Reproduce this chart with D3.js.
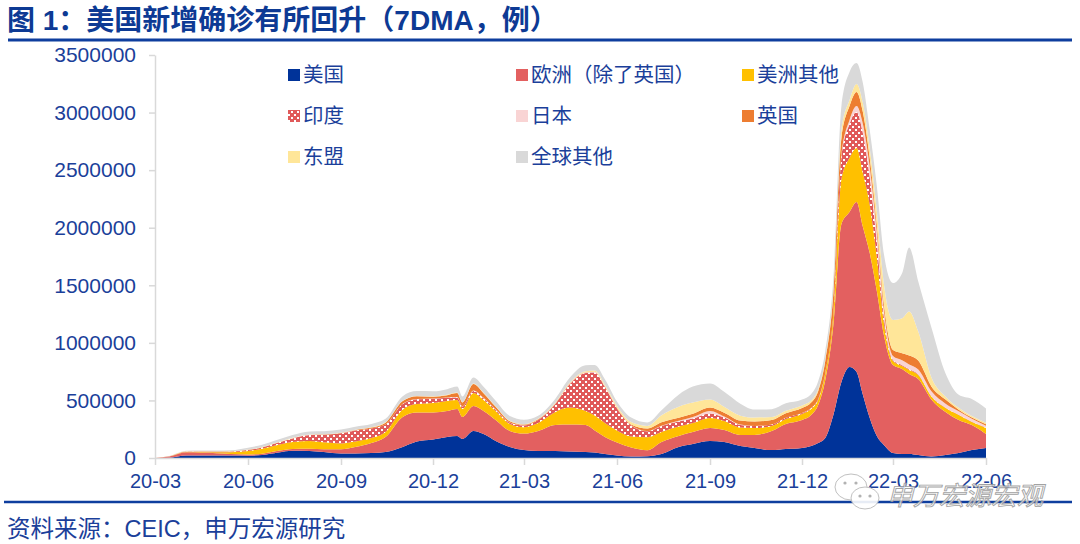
<!DOCTYPE html>
<html><head><meta charset="utf-8">
<script src="https://cdn.jsdelivr.net/npm/d3@7"></script>
<style>
body{margin:0;background:#fff}
svg{display:block}
text{font-family:"Liberation Sans",Arial,"Noto Sans CJK SC",sans-serif}
</style>
</head><body>
<svg id="c" width="1080" height="544"></svg>
<script>
// ---- data (7DMA new cases, in thousands of cases) ----
const dates = ["2020-03-01","2020-03-15","2020-04-01","2020-04-15","2020-05-01","2020-05-15","2020-06-01","2020-06-15","2020-07-01","2020-07-15","2020-08-01","2020-08-15","2020-09-01","2020-09-15","2020-10-01","2020-10-15","2020-11-01","2020-11-15","2020-12-01","2020-12-15","2020-12-25","2020-12-30","2021-01-10","2021-01-20","2021-02-01","2021-02-15","2021-03-01","2021-03-15","2021-04-01","2021-04-15","2021-05-01","2021-05-10","2021-05-20","2021-06-01","2021-06-15","2021-07-01","2021-07-15","2021-08-01","2021-08-15","2021-09-01","2021-09-15","2021-10-01","2021-10-15","2021-11-01","2021-11-15","2021-12-01","2021-12-10","2021-12-17","2021-12-24","2022-01-01","2022-01-09","2022-01-17","2022-01-24","2022-01-30","2022-02-06","2022-02-13","2022-02-20","2022-03-01","2022-03-10","2022-03-17","2022-03-26","2022-04-08","2022-04-22","2022-05-05","2022-05-18","2022-06-01"];
const usa = [0,3,22,22,22,22,20,26,48,63,61,52,39,39,43,52,96,143,161,182,191,165,234,208,148,96,69,61,61,56,52,48,35,22,13,16,35,96,122,148,139,104,87,69,78,87,104,130,174,373,660,790,747,556,347,191,113,43,35,35,26,13,26,43,69,87];
const europeExUK = [0,10,28,26,19,13,11,12,15,16,19,24,36,56,87,130,261,252,234,226,234,191,217,200,182,139,143,174,226,234,234,191,148,113,78,52,104,96,104,113,104,96,113,165,217,243,269,330,504,782,1372,1346,1476,1459,1433,1259,955,764,738,695,660,495,373,287,217,122];
const americasOther = [0,1,3,4,9,16,30,43,52,61,68,61,52,48,43,43,65,74,83,87,78,69,113,96,78,61,56,69,113,148,122,130,122,104,96,113,87,82,78,87,78,65,61,43,43,52,52,43,52,87,391,469,469,469,417,295,104,35,26,35,35,26,35,43,26,52];
const india = [0,0,1,1,2,3,8,11,19,30,52,65,87,96,83,65,48,42,37,28,23,20,18,15,12,11,15,26,69,200,330,373,313,191,96,52,52,43,39,39,30,22,16,13,11,9,8,8,7,13,191,295,313,347,243,130,52,9,7,5,4,2,3,3,3,3];
const japan = [0,0,0,0,0,0,0,0,0,1,1,1,1,1,1,1,1,2,2,3,3,3,5,5,3,1,1,1,2,3,5,6,5,3,2,2,3,7,13,22,9,3,1,0.4,0.4,0.4,0.4,0.4,0.4,1,17,35,52,78,87,87,61,35,43,43,43,43,35,30,26,17];
const uk = [0,1,3,4,4,3,2,1,1,1,1,1,2,3,7,16,24,23,16,20,35,35,56,39,22,11,6,5,3,3,2,2,3,3,7,22,30,26,29,30,33,35,39,39,39,43,48,69,104,174,148,122,122,104,78,61,52,52,61,78,78,43,35,13,10,13];
const asean = [0,0,1,1,1,1,2,2,3,3,3,3,3,3,3,3,3,3,3,4,4,3,4,4,4,4,4,5,6,7,9,10,11,16,20,22,61,96,96,69,52,43,35,26,22,22,17,17,17,26,69,52,69,78,87,122,174,261,304,382,252,78,26,17,13,13];
const restOfWorld = [0,3,6,7,9,10,17,20,22,24,26,26,28,26,29,30,39,42,43,48,52,48,52,52,48,42,39,26,35,43,52,48,48,39,39,30,43,104,139,139,130,104,69,69,65,52,56,69,69,104,208,243,182,174,156,217,261,321,391,556,434,434,200,113,148,122];
const UNIT = 1000;

const seriesKeys = ["usa","europeExUK","americasOther","india","japan","uk","asean","restOfWorld"];
const seriesNames = ["美国","欧洲（除了英国）","美洲其他","印度","日本","英国","东盟","全球其他"];
const seriesColors = ["#003399","#E36060","#FFC000","url(#indiaPat)","#F9D4D4","#ED7D31","#FFE699","#D9D9D9"];
const yTicks = [0,500000,1000000,1500000,2000000,2500000,3000000,3500000];
const xTickDates = ["2020-03-01","2020-06-01","2020-09-01","2020-12-01","2021-03-01","2021-06-01","2021-09-01","2021-12-01","2022-03-01","2022-06-01"];
const xTickLabels = ["20-03","20-06","20-09","20-12","21-03","21-06","21-09","21-12","22-03","22-06"];
const titleText = "图 1：美国新增确诊有所回升（7DMA，例）";
const sourceText = "资料来源：CEIC，申万宏源研究";
const watermarkText = "申万宏源宏观";

// ---- build table ----
const parse = d3.timeParse("%Y-%m-%d");
const raw = {usa, europeExUK, americasOther, india, japan, uk, asean, restOfWorld};
const table = dates.map((d,i)=>{
  const row = {date: parse(d)};
  seriesKeys.forEach(k=> row[k] = raw[k][i]*UNIT);
  return row;
});

const svg = d3.select("#c");
const blue = "#1B3F9A";

// pattern for India
const defs = svg.append("defs");
const pat = defs.append("pattern").attr("id","indiaPat").attr("patternUnits","userSpaceOnUse")
  .attr("width",6).attr("height",6);
pat.append("rect").attr("width",6).attr("height",6).attr("fill","#E05A5A");
pat.append("rect").attr("x",0).attr("y",0).attr("width",2).attr("height",2).attr("fill","#fff");
pat.append("rect").attr("x",3).attr("y",3).attr("width",2).attr("height",2).attr("fill","#fff");

// title
svg.append("text").attr("x",7).attr("y",30).attr("font-size",28).attr("font-weight","bold")
  .attr("fill","#0D3A94").text(titleText);
svg.append("line").attr("x1",8).attr("x2",1072).attr("y1",40).attr("y2",40)
  .attr("stroke","#0E3E9E").attr("stroke-width",3);

// scales
const x = d3.scaleTime().domain([parse("2020-03-01"), parse("2022-06-01")]).range([155, 986]);
const y = d3.scaleLinear().domain([0,3500000]).range([458,55]);

// stack
const stack = d3.stack().keys(seriesKeys);
const layers = stack(table);
const area = d3.area().x(d=>x(d.data.date)).y0(d=>y(d[0])).y1(d=>y(d[1])).curve(d3.curveMonotoneX);
svg.append("g").selectAll("path").data(layers).join("path")
  .attr("d",area).attr("fill",(d,i)=>seriesColors[i]);

// y axis
const yAxis = svg.append("g").attr("transform","translate(155,0)")
  .call(d3.axisLeft(y).tickValues(yTicks).tickFormat(d3.format("d")).tickSize(6).tickSizeOuter(0).tickPadding(13));
yAxis.select(".domain").attr("stroke","#D9D9D9").attr("stroke-width",1.5);
yAxis.selectAll(".tick line").attr("stroke","#D9D9D9").attr("stroke-width",1.5);
yAxis.selectAll(".tick text").attr("font-size",21).attr("fill",blue)
  .attr("font-family",'"Liberation Sans",Arial,sans-serif');

// x axis
const xAxis = svg.append("g").attr("transform","translate(0,458)")
  .call(d3.axisBottom(x).tickValues(xTickDates.map(parse)).tickFormat((d,i)=>xTickLabels[i]).tickSize(7).tickSizeOuter(0).tickPadding(9));
xAxis.select(".domain").attr("stroke","#D9D9D9").attr("stroke-width",1.5);
xAxis.selectAll(".tick line").attr("stroke","#D9D9D9").attr("stroke-width",1.5);
xAxis.selectAll(".tick text").attr("font-size",20).attr("fill",blue)
  .attr("font-family",'"Liberation Sans",Arial,sans-serif');

// legend
const legCols = [288,516,742], legRows = [75,116,157];
const leg = svg.append("g");
seriesNames.forEach((n,i)=>{
  const cx = legCols[i%3], cy = legRows[Math.floor(i/3)];
  leg.append("rect").attr("x",cx).attr("y",cy-6).attr("width",12).attr("height",12).attr("fill",seriesColors[i]);
  leg.append("text").attr("x",cx+15).attr("y",cy+7).attr("font-size",20.5).attr("fill",blue).text(n);
});

// bottom rule & source
svg.append("line").attr("x1",4).attr("x2",1072).attr("y1",502).attr("y2",502)
  .attr("stroke","#0E3E9E").attr("stroke-width",2.5);
svg.append("text").attr("x",7).attr("y",537).attr("font-size",23.5).attr("fill",blue).text(sourceText);

// watermark
const wm = svg.append("g").attr("opacity",0.9);
wm.append("ellipse").attr("cx",851).attr("cy",487).attr("rx",16).attr("ry",13).attr("fill","#fff").attr("stroke","#bbb").attr("stroke-width",1);
wm.append("ellipse").attr("cx",865).attr("cy",498).attr("rx",14).attr("ry",11).attr("fill","#fff").attr("stroke","#bbb").attr("stroke-width",1);
[[845,483],[856,483],[860,496],[870,496]].forEach(p=>wm.append("circle").attr("cx",p[0]).attr("cy",p[1]).attr("r",1.6).attr("fill","#aaa"));
wm.append("text").attr("x",887).attr("y",505).attr("font-size",26).attr("font-style","italic")
  .attr("fill","#fff").attr("fill-opacity",0.85).attr("stroke","#999").attr("stroke-width",0.9).text(watermarkText);
</script>
</body></html>
